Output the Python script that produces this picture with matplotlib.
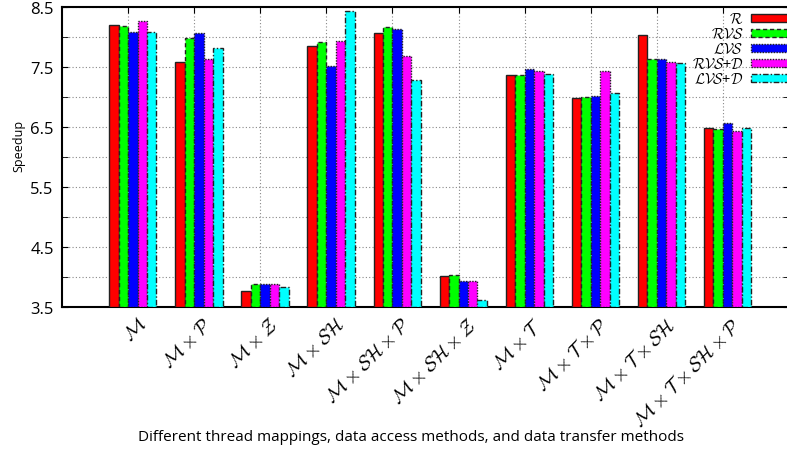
import matplotlib
matplotlib.use("Agg")
import matplotlib.pyplot as plt
import matplotlib.transforms as mtransforms
import numpy as np

plt.rcParams['mathtext.fontset'] = 'cm'
plt.rcParams['font.family'] = ['Open Sans', 'DejaVu Sans']

categories = [r'$\mathcal{M}$', r'$\mathcal{M}\times\mathcal{P}$', r'$\mathcal{M}\times\mathcal{Z}$',
              r'$\mathcal{M}\times\mathcal{SH}$', r'$\mathcal{M}\times\mathcal{SH}\times\mathcal{P}$',
              r'$\mathcal{M}\times\mathcal{SH}\times\mathcal{Z}$', r'$\mathcal{M}\times\mathcal{T}$',
              r'$\mathcal{M}\times\mathcal{T}\times\mathcal{P}$', r'$\mathcal{M}\times\mathcal{T}\times\mathcal{SH}$',
              r'$\mathcal{M}\times\mathcal{T}\times\mathcal{SH}\times\mathcal{P}$']
series_names = [r'$\mathcal{R}$', r'$\mathcal{RVS}$', r'$\mathcal{LVS}$', r'$\mathcal{RVS}$+$\mathcal{D}$', r'$\mathcal{LVS}$+$\mathcal{D}$']
R     = [8.20, 7.58, 3.76, 7.85, 8.06, 4.01, 7.37, 6.99, 8.04, 6.48]
RVS   = [8.19, 7.98, 3.89, 7.92, 8.16, 4.03, 7.37, 7.00, 7.64, 6.47]
LVS   = [8.09, 8.07, 3.88, 7.51, 8.14, 3.94, 7.46, 7.01, 7.63, 6.56]
RVS_D = [8.26, 7.63, 3.89, 7.93, 7.68, 3.94, 7.44, 7.44, 7.58, 6.44]
LVS_D = [8.08, 7.81, 3.84, 8.43, 7.29, 3.62, 7.39, 7.07, 7.56, 6.48]
series = [R, RVS, LVS, RVS_D, LVS_D]
colors = ['#ff0000', '#00ff00', '#0000ff', '#ff00ff', '#00ffff']
edge_styles = ['-', (0, (3, 2)), (0, (1, 1)), (0, (1, 1)), (0, (4, 1.5, 1, 1.5))]

fig = plt.figure(figsize=(7.87, 4.52), dpi=100)
ax = fig.add_axes([62/787, 144/452, 727/787, 300/452])

x = np.arange(len(categories))
w = 1.0/7
for i, (vals, c, ls, name) in enumerate(zip(series, colors, edge_styles, series_names)):
    ax.bar(x + (i - 1.5)*w, np.array(vals) - 3.5, width=w, bottom=3.5, color=c,
           edgecolor='#222222', linewidth=1.0, linestyle=ls, label=name, zorder=3)

ax.set_xlim(-1, 10)
ax.set_ylim(3.5, 8.5)
ax.set_yticks(np.arange(3.5, 8.51, 1.0))
ax.set_yticklabels(['3.5', '4.5', '5.5', '6.5', '7.5', '8.5'])
ax.set_yticks(np.arange(4.0, 8.5, 1.0), minor=True)
ax.set_xticks(x)
ax.set_xticklabels([''] * len(categories))
trans = mtransforms.blended_transform_factory(ax.transData, ax.transAxes)
offset = mtransforms.ScaledTranslation(22/100, -8/100, fig.dpi_scale_trans)
for xi, lab in zip(x, categories):
    ax.text(xi, 0, lab, transform=trans + offset, rotation=45, ha='right', va='top', fontsize=14)

ax.tick_params(axis='y', which='both', direction='in', length=4, labelsize=12, pad=6, right=True)
ax.tick_params(axis='x', direction='in', length=4, top=True)
ax.grid(True, which='both', axis='y', linestyle=(0, (1, 2)), color='#888888', linewidth=0.8, zorder=0)
ax.grid(True, which='major', axis='x', linestyle=(0, (1, 2)), color='#888888', linewidth=0.8, zorder=0)
for s in ax.spines.values():
    s.set_linewidth(1.5)

ax.set_ylabel('Speedup', fontsize=9)
ax.yaxis.set_label_coords(-0.051, 0.54)
fig.text(411/787, 1 - 438/452, 'Different thread mappings, data access methods, and data transfer methods',
         ha='center', va='center', fontsize=11)

leg = ax.legend(loc='upper left', bbox_to_anchor=((692 - 62)/727, (308 - 13)/300), frameon=False,
                markerfirst=False, fontsize=10.5, handlelength=3.4, handleheight=0.5,
                labelspacing=0.0, handletextpad=0.5, borderaxespad=0, borderpad=0)
leg.set_clip_on(False)

fig.savefig('out.png', dpi=100)
